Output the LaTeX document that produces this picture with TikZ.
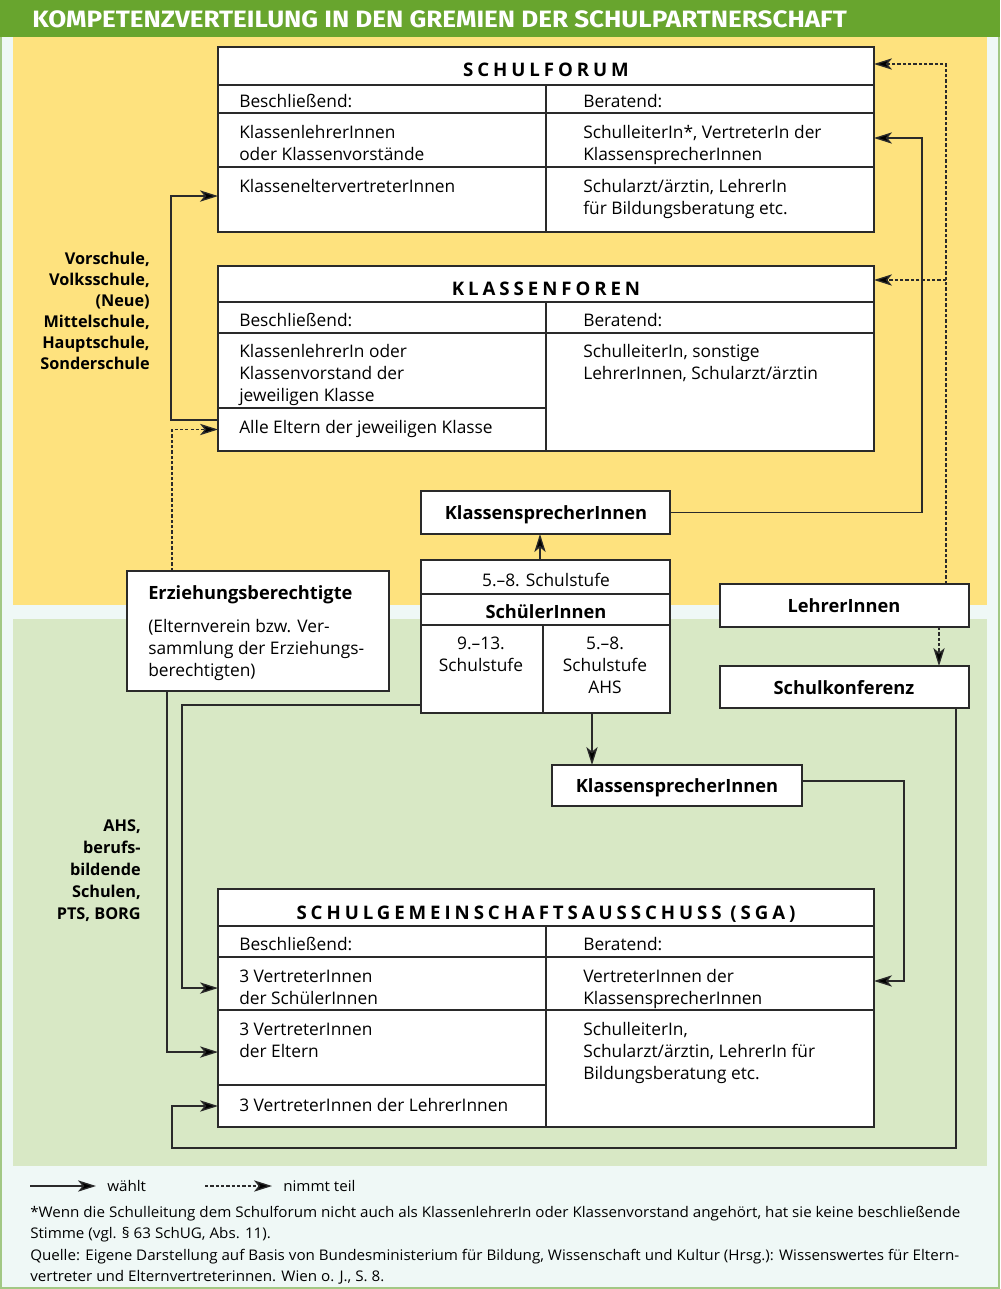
\documentclass[tikz,border=0pt]{standalone}
\usepackage{fontspec}
\usepackage{graphicx}
\setmainfont{Open Sans}
\newfontfamily\titlefont{Fira Sans}
\newfontfamily\spacedfont[LetterSpace=21]{Open Sans}
\usetikzlibrary{arrows.meta}
\definecolor{titlegreen}{HTML}{68A52E}
\definecolor{bgmint}{HTML}{EFF8F6}
\definecolor{yell}{HTML}{FEE27E}
\definecolor{lgreen}{HTML}{D8E8C5}
\definecolor{linec}{HTML}{2A2A2A}
\definecolor{framec}{HTML}{A2C884}
\newcommand\lns[1]{\vtop{\baselineskip=16.5pt\lineskiplimit=-20pt\halign{##\hfil\cr#1\crcr}}}
\newcommand\clns[1]{\vtop{\baselineskip=16.5pt\lineskiplimit=-20pt\halign{\hfil##\hfil\cr#1\crcr}}}
\newcommand\rlns[2]{\vtop{\baselineskip=#1\lineskiplimit=-20pt\halign{\hfil##\cr#2\crcr}}}
\newcommand\cell[5]{\node[cellst, minimum width={(#4-#2)*0.75pt}, minimum height={(#5-#3)*0.75pt}] (#1) at (#2,#3) {};}
\newlength\fnw
\begin{document}
\settowidth\fnw{\fontsize{11}{15}\selectfont *Wenn die Schulleitung dem Schulforum nicht auch als KlassenlehrerIn oder Klassenvorstand angehört, hat sie keine beschließende}%
\pgfmathsetmacro\fnsc{697.5/\fnw}%
\begin{tikzpicture}[x=0.75pt,y=-0.75pt,
  cellst/.style={draw=linec, line width=1.1pt, fill=white, anchor=north west, inner sep=0pt, outer sep=0pt},
  txt/.style={anchor=base west, inner sep=0pt, font=\fontsize{13}{16.5}\selectfont},
  ctxt/.style={anchor=base, inner sep=0pt, font=\fontsize{13}{16.5}\selectfont},
  btxt/.style={anchor=base, inner sep=0pt, font=\fontsize{13.7}{16.5}\selectfont\bfseries},
  hdr/.style={anchor=base, inner sep=0pt, font=\fontsize{14}{16}\spacedfont\bfseries},
  side/.style={anchor=base east, inner sep=0pt, font=\fontsize{12.2}{15.75}\selectfont\bfseries},
  fn/.style={anchor=base west, inner sep=0pt, font=\fontsize{11}{15}\selectfont},
  arr/.style={draw=linec, line width=1pt, -{Stealth[length=13.5pt,width=8.5pt,inset=3.5pt,fill=black]}},
  darr/.style={arr, dash pattern=on 2.4pt off 1.6pt}]
\useasboundingbox (0,0) rectangle (1000,1289);
% background
\fill[bgmint] (0,0) rectangle (1000,1289);
\draw[framec, line width=1.2pt] (0.8,0) -- (0.8,1288.2) -- (999.2,1288.2) -- (999.2,0);
\fill[titlegreen] (0,0) rectangle (1000,37);
\fill[yell] (13,37) rectangle (987,605);
\fill[lgreen] (13,619) rectangle (987,1166);
\node[anchor=base west, inner sep=0pt, text=white] (title) at (32,27)
  {\resizebox{611pt}{12.6pt}{\titlefont\bfseries KOMPETENZVERTEILUNG IN DEN GREMIEN DER SCHULPARTNERSCHAFT}};

% ===== SCHULFORUM
\cell{sfT}{218}{47}{874}{85}
\cell{sfL1}{218}{85}{546}{113}
\cell{sfR1}{546}{85}{874}{113}
\cell{sfL2}{218}{113}{546}{167}
\cell{sfR2}{546}{113}{874}{167}
\cell{sfL3}{218}{167}{546}{232}
\cell{sfR3}{546}{167}{874}{232}
\node[hdr] (sfh) at (546,76) {SCHULFORUM};
\node[txt] (sf1) at (239,107) {Beschließend:};
\node[txt] (sf2) at (583,107) {Beratend:};
\node[txt] (sf3) at (239,138) {\lns{KlassenlehrerInnen\cr oder Klassenvorstände}};
\node[txt] (sf4) at (583,138) {\lns{SchulleiterIn*, VertreterIn der\cr KlassensprecherInnen}};
\node[txt] (sf5) at (239,192) {KlasseneltervertreterInnen};
\node[txt] (sf6) at (583,192) {\lns{Schularzt/ärztin, LehrerIn\cr für Bildungsberatung etc.}};

% ===== KLASSENFOREN
\cell{kfT}{218}{266}{874}{302}
\cell{kfL1}{218}{302}{546}{333}
\cell{kfR1}{546}{302}{874}{333}
\cell{kfL2}{218}{333}{546}{408}
\cell{kfL3}{218}{408}{546}{451}
\cell{kfR2}{546}{333}{874}{451}
\node[hdr] (kfh) at (546,295) {KLASSENFOREN};
\node[txt] (kf1) at (239,326) {Beschließend:};
\node[txt] (kf2) at (583,326) {Beratend:};
\node[txt] (kf3) at (239,357) {\lns{KlassenlehrerIn oder\cr Klassenvorstand der\cr jeweiligen Klasse}};
\node[txt] (kf4) at (239,433) {Alle Eltern der jeweiligen Klasse};
\node[txt] (kf5) at (583,357) {\lns{SchulleiterIn, sonstige\cr LehrerInnen, Schularzt/ärztin}};

% ===== middle boxes
\cell{ks1}{421}{491}{670}{534}
\node[btxt] (ks1t) at (546,519) {KlassensprecherInnen};
\cell{schueler}{421}{560}{670}{713}
\cell{su1}{421}{560}{670}{594}
\cell{su2}{421}{594}{670}{625}
\cell{su3}{421}{625}{543}{713}
\cell{su4}{543}{625}{670}{713}
\node[ctxt] (su1t) at (546,586) {5.–8. Schulstufe};
\node[btxt] (su2t) at (546,618) {SchülerInnen};
\node[ctxt] (su3t) at (481,649) {\clns{9.–13.\cr Schulstufe}};
\node[ctxt] (su4t) at (605,649) {\clns{5.–8.\cr Schulstufe\cr AHS}};

\cell{erz}{127}{571}{389}{691}
\node[txt, font=\fontsize{13.7}{16.5}\selectfont\bfseries] (erzt) at (148,599) {Erziehungsberechtigte};
\node[txt] (erzs) at (148,632) {\lns{(Elternverein bzw. Ver-\cr sammlung der Erziehungs-\cr berechtigten)}};

\cell{lehrer}{720}{584}{969}{627}
\node[btxt] (lehrert) at (844,612) {LehrerInnen};
\cell{skonf}{720}{666}{969}{708}
\node[btxt] (skonft) at (844,694) {Schulkonferenz};
\cell{ks2}{552}{765}{802}{806}
\node[btxt] (ks2t) at (677,792) {KlassensprecherInnen};

% ===== SGA
\cell{sgaT}{218}{889}{874}{926}
\cell{sgaL1}{218}{926}{546}{957}
\cell{sgaR1}{546}{926}{874}{957}
\cell{sgaL2}{218}{957}{546}{1010}
\cell{sgaR2}{546}{957}{874}{1010}
\cell{sgaL3}{218}{1010}{546}{1085}
\cell{sgaL4}{218}{1085}{546}{1127}
\cell{sgaR3}{546}{1010}{874}{1127}
\node[hdr] (sgah) at (546,919) {SCHULGEMEINSCHAFTSAUSSCHUSS (SGA)};
\node[txt] (sg1) at (239,950) {Beschließend:};
\node[txt] (sg2) at (583,950) {Beratend:};
\node[txt] (sg3) at (239,982) {\lns{3 VertreterInnen\cr der SchülerInnen}};
\node[txt] (sg4) at (583,982) {\lns{VertreterInnen der\cr KlassensprecherInnen}};
\node[txt] (sg5) at (239,1035) {\lns{3 VertreterInnen\cr der Eltern}};
\node[txt] (sg6) at (583,1035) {\lns{SchulleiterIn,\cr Schularzt/ärztin, LehrerIn für\cr Bildungsberatung etc.}};
\node[txt] (sg7) at (239,1111) {3 VertreterInnen der LehrerInnen};

% ===== side labels
\node[side] (side1) at (150,264) {\rlns{15.75pt}{Vorschule,\cr Volksschule,\cr (Neue)\cr Mittelschule,\cr Hauptschule,\cr Sonderschule}};
\node[side] (side2) at (141,831) {\rlns{16.5pt}{AHS,\cr berufs-\cr bildende\cr Schulen,\cr PTS, BORG}};

% ===== connectors
\coordinate (c1) at (922,138);
\draw[arr] (ks1.east) -| (c1) -- (sfR2.east |- c1);
\coordinate (d1) at (946,64);
\coordinate (d2) at (946,280);
\draw[darr] (lehrer.north -| d1) -- (d1) -- (sfT.east |- d1);
\draw[darr] (d2) -- (kfT.east |- d2);
\coordinate (d3) at (939,640);
\draw[darr] (lehrer.south -| d3) -- (skonf.north -| d3);
\coordinate (c2) at (540,540);
\draw[arr] (schueler.north -| c2) -- (ks1.south -| c2);
\coordinate (c3) at (592,740);
\draw[arr] (schueler.south -| c3) -- (ks2.north -| c3);
\coordinate (e1) at (172,500);
\draw[darr] (erz.north -| e1) |- (kfL3.west);
\coordinate (s1) at (171,420);
\draw[arr] (kfL3.west |- s1) -- (s1) |- ([yshift=2.6pt]sfL3.west);
\coordinate (s2) at (182,705);
\draw[arr] (schueler.west |- s2) -- (s2) |- ([yshift=-3.4pt]sgaL2.west);
\coordinate (s3) at (167,900);
\draw[arr] (erz.south -| s3) |- ([yshift=-3.4pt]sgaL3.west);
\coordinate (s4) at (956,1148);
\coordinate (s5) at (172,1148);
\draw[arr] (skonf.south -| s4) -- (s4) -- (s5) |- (sgaL4.west);
\coordinate (s7) at (904,781);
\draw[arr] (ks2.east |- s7) -- (s7) |- ([yshift=1.9pt]sgaR2.east);

% ===== legend
\coordinate (la1) at (30,1186);
\coordinate (la2) at (96,1186);
\coordinate (lb1) at (205,1186);
\coordinate (lb2) at (272,1186);
\draw[arr] (la1) -- (la2);
\draw[darr] (lb1) -- (lb2);
\node[fn] (lw) at (107,1191) {\scalebox{\fnsc}[1]{wählt}};
\node[fn] (ln) at (283,1191) {\scalebox{\fnsc}[1]{nimmt teil}};
\node[fn] (fn1) at (30,1217) {\scalebox{\fnsc}[1]{*Wenn die Schulleitung dem Schulforum nicht auch als KlassenlehrerIn oder Klassenvorstand angehört, hat sie keine beschließende}};
\node[fn] (fn2) at (30,1238) {\scalebox{\fnsc}[1]{Stimme (vgl. § 63 SchUG, Abs. 11).}};
\node[fn] (fn3) at (30,1260) {\scalebox{\fnsc}[1]{Quelle: Eigene Darstellung auf Basis von Bundesministerium für Bildung, Wissenschaft und Kultur (Hrsg.): Wissenswertes für Eltern-}};
\node[fn] (fn4) at (30,1281) {\scalebox{\fnsc}[1]{vertreter und Elternvertreterinnen. Wien o. J., S. 8.}};
\end{tikzpicture}
\end{document}
